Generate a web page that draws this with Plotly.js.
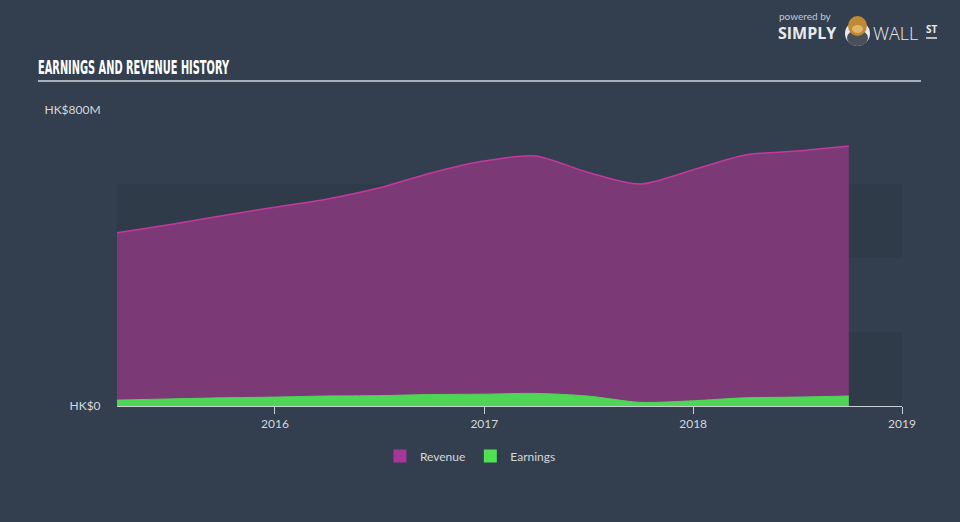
<!DOCTYPE html>
<html>
<head>
<meta charset="utf-8">
<script src="https://cdn.plot.ly/plotly-3.0.1.min.js"></script>
<style>
html,body{margin:0;padding:0;background:#333f4f;}
#chart{width:960px;height:522px;}
</style>
</head>
<body>
<div id="chart"></div>
<script>
// ---- data (HK$ millions) ----
const dates = ['2015-03-31','2015-06-30','2015-09-30','2015-12-31','2016-03-31','2016-06-30','2016-09-30','2016-12-31','2017-03-31','2017-06-30','2017-09-30','2017-12-31','2018-03-31','2018-06-30','2018-09-30'];
const revenue = [468, 490, 514, 537, 559, 589, 630, 662, 676, 632, 600, 638, 678, 689, 703];
const earnings = [16, 19, 22, 24, 27, 28, 31, 32, 34, 27, 10, 14, 22, 24, 27];
const yTickVals = [0, 800];
const yTickText = ['HK$0', 'HK$800M'];
const xTickVals = ['2016-01-01','2017-01-01','2018-01-01','2019-01-01'];
const xTickText = ['2016','2017','2018','2019'];

// pixel -> paper helpers for decorations
const L = 117, R = 902, T = 110, B = 406;
const px = x => (x - L) / (R - L);
const py = y => (B - y) / (B - T);

const traces = [
  {
    x: dates, y: revenue, name: 'Revenue', type: 'scatter', mode: 'lines', showlegend: false,
    line: {color: '#c4389f', width: 1.5, shape: 'spline', smoothing: 0.8},
    fill: 'tozeroy', fillcolor: '#7b3a75', hoverinfo: 'skip'
  },
  {
    x: dates, y: earnings, name: 'Earnings', type: 'scatter', mode: 'lines', showlegend: false,
    line: {color: '#50d656', width: 1, shape: 'spline', smoothing: 0.8},
    fill: 'tozeroy', fillcolor: '#50d656', hoverinfo: 'skip'
  },
  // legend entries
  {x: [null], y: [null], name: 'Revenue', type: 'scatter', mode: 'markers',
   marker: {symbol: 'square', size: 13, color: '#a6369a'}, showlegend: true, hoverinfo: 'skip'},
  {x: [null], y: [null], name: 'Earnings', type: 'scatter', mode: 'markers',
   marker: {symbol: 'square', size: 13, color: '#4fe152'}, showlegend: true, hoverinfo: 'skip'}
];

const bandColor = '#2f3b49';
const layout = {
  width: 960, height: 522,
  paper_bgcolor: '#333f4f', plot_bgcolor: 'rgba(0,0,0,0)',
  margin: {l: L, r: 960 - R, t: T, b: 522 - B, pad: 0},
  font: {family: 'Lato, "Open Sans", sans-serif', color: '#d3d7dc', size: 12},
  title: {
    text: 'EARNINGS AND REVENUE HISTORY',
    font: {family: '"Liberation Sans Narrow", "DejaVu Sans Condensed", sans-serif', size: 19, color: '#ffffff', weight: 700},
    x: 38 / 960, xanchor: 'left', xref: 'container',
    y: 1 - 67 / 522, yanchor: 'middle', yref: 'container'
  },
  showlegend: true,
  legend: {
    orientation: 'h', xref: 'container', yref: 'container',
    x: 0.49, xanchor: 'center', y: 1 - 456 / 522, yanchor: 'middle',
    itemwidth: 30, tracegroupgap: 0,
    font: {size: 12, color: '#d3d7dc'}, bgcolor: 'rgba(0,0,0,0)', traceorder: 'normal'
  },
  xaxis: {
    type: 'date', range: ['2015-03-31', '2019-01-01'],
    tickvals: xTickVals, ticktext: xTickText,
    showgrid: false, zeroline: false,
    showline: true, linecolor: '#c9ced6', linewidth: 1,
    ticks: 'outside', ticklen: 7, tickcolor: '#c9ced6', tickwidth: 1,
    tickfont: {size: 12, color: '#d3d7dc'}, fixedrange: true
  },
  yaxis: {
    range: [0, 800], tickvals: yTickVals, ticktext: yTickText,
    showgrid: false, zeroline: false, showline: false,
    ticks: 'outside', ticklen: 13, tickcolor: 'rgba(0,0,0,0)',
    tickfont: {size: 12, color: '#d3d7dc'}, fixedrange: true
  },
  shapes: [
    {type: 'rect', xref: 'paper', yref: 'y', x0: 0, x1: 1, y0: 0, y1: 200, fillcolor: bandColor, line: {width: 0}, layer: 'below'},
    {type: 'rect', xref: 'paper', yref: 'y', x0: 0, x1: 1, y0: 400, y1: 600, fillcolor: bandColor, line: {width: 0}, layer: 'below'},
    {type: 'line', xref: 'paper', yref: 'paper', x0: px(38), x1: px(921), y0: py(81), y1: py(81), line: {color: '#a9b0ba', width: 2}},
    // logo emblem
    {type: 'circle', xref: 'paper', yref: 'paper', x0: px(845), x1: px(870), y0: py(46), y1: py(21), fillcolor: '#e9ecef', line: {width: 0}},
    {type: 'circle', xref: 'paper', yref: 'paper', x0: px(847), x1: px(868), y0: py(46), y1: py(30), fillcolor: '#4a4f57', line: {width: 0}},
    {type: 'circle', xref: 'paper', yref: 'paper', x0: px(848), x1: px(867), y0: py(36), y1: py(16), fillcolor: '#c08a34', line: {width: 0}},
    {type: 'circle', xref: 'paper', yref: 'paper', x0: px(852), x1: px(863), y0: py(33), y1: py(25), fillcolor: '#e0b56a', line: {width: 0}},
    {type: 'line', xref: 'paper', yref: 'paper', x0: px(926), x1: px(937), y0: py(38), y1: py(38), line: {color: '#e6e8eb', width: 1.5}}
  ],
  annotations: [
    {xref: 'paper', yref: 'paper', x: px(805), y: py(16), text: 'powered by', showarrow: false, xanchor: 'center', yanchor: 'middle', font: {size: 10, color: '#c3c8cf'}},
    {xref: 'paper', yref: 'paper', x: px(776), y: py(33), text: '<b>SIMPLY</b>', showarrow: false, xanchor: 'left', yanchor: 'middle', font: {family: '"Open Sans", sans-serif', size: 16, color: '#e8eaed'}},
    {xref: 'paper', yref: 'paper', x: px(871), y: py(33), text: 'WALL', showarrow: false, xanchor: 'left', yanchor: 'middle', font: {family: '"Open Sans", sans-serif', size: 18, color: '#e8eaed', weight: 300}},
    {xref: 'paper', yref: 'paper', x: px(924), y: py(29), text: '<b>ST</b>', showarrow: false, xanchor: 'left', yanchor: 'middle', font: {family: '"Open Sans", sans-serif', size: 10, color: '#e8eaed'}}
  ]
};

Plotly.newPlot('chart', traces, layout, {displayModeBar: false, staticPlot: true}).then(gd => {
  // squeeze the title to the condensed width of the reference
  const t = gd.querySelector('.gtitle');
  if (t) {
    t.setAttribute('textLength', '191');
    t.setAttribute('lengthAdjust', 'spacingAndGlyphs');
  }
});
</script>
</body>
</html>
